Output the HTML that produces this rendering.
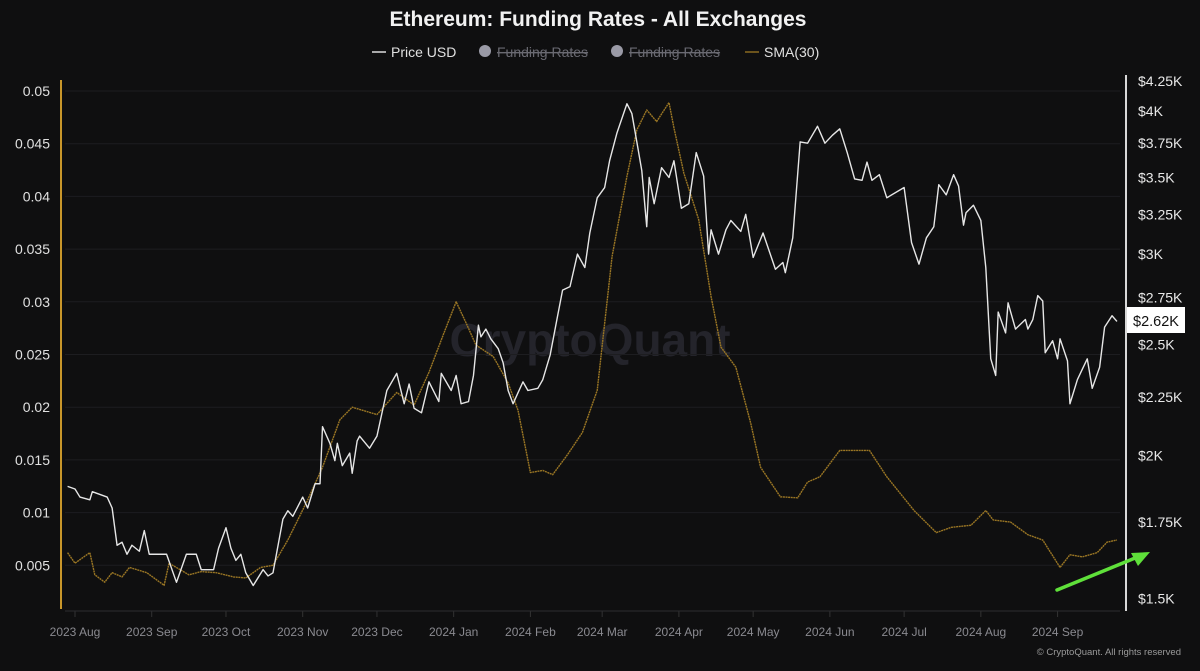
<!DOCTYPE html>
<html><head><meta charset="utf-8"><style>
body{margin:0;background:#0f0f10;width:1200px;height:666px;overflow:hidden;font-family:"Liberation Sans",sans-serif}
svg text{font-family:"Liberation Sans",sans-serif}
</style></head><body>
<svg id="chart" width="1200" height="666" viewBox="0 0 1200 666" xmlns="http://www.w3.org/2000/svg">
<rect width="1200" height="666" fill="#0f0f10"/>
<text x="598" y="26" text-anchor="middle" fill="#f2f2f2" font-size="21" font-weight="bold">Ethereum: Funding Rates - All Exchanges</text>
<g font-size="14">
 <g><line x1="372" y1="52" x2="386" y2="52" stroke="#ddd" stroke-width="1.5"/><text x="391" y="57" fill="#e0e0e0">Price USD</text></g>
 <g><circle cx="485" cy="51" r="6" fill="#9a9aa6"/><text x="497" y="57" fill="#6a6a72" text-decoration="line-through">Funding Rates</text></g>
 <g><circle cx="617" cy="51" r="6" fill="#9a9aa6"/><text x="629" y="57" fill="#6a6a72" text-decoration="line-through">Funding Rates</text></g>
 <g><line x1="745" y1="52" x2="759" y2="52" stroke="#8a6a20" stroke-width="1.5"/><text x="764" y="57" fill="#e0e0e0">SMA(30)</text></g>
</g>
<text x="590" y="356" text-anchor="middle" fill="#24242b" font-size="46" font-weight="bold">CryptoQuant</text>
<g id="grid"></g>
<g id="axes"></g>
<g id="series"></g>
<g><rect x="1127" y="307" width="58" height="26" fill="#fff"/><text x="1156" y="326" text-anchor="middle" font-size="14.5" fill="#111">$2.62K</text></g>
<g><line x1="1057" y1="590" x2="1140" y2="556" stroke="#5fe03a" stroke-width="3.5" stroke-linecap="round"/><polygon points="1150,552 1131,553 1138,566" fill="#5fe03a"/></g>
<text x="1181" y="655" text-anchor="end" fill="#9a9a9a" font-size="9.5">© CryptoQuant. All rights reserved</text>
</svg>
<script>
const priceDays=[-3,0,2,6,7,13,15,17,19,21,23,26,28,30,37,41,45,49,51,56,58,61,63,65,67,69,72,76,78,80,84,86,88,92,94,97,99,100,103,105,106,108,111,112,114,115,119,122,126,130,133,135,137,140,143,147,148,152,154,156,159,161,163,164,166,168,171,173,175,177,179,181,183,187,189,192,195,197,200,203,206,208,211,214,216,219,223,225,227,229,231,232,234,237,240,242,245,248,251,254,256,257,260,263,265,269,271,274,278,283,286,287,290,293,296,300,303,306,309,312,315,318,320,322,325,328,335,338,341,344,347,349,352,355,357,359,360,363,366,368,370,372,373,376,377,380,384,385,387,389,391,392,395,397,398,401,402,405,407,409,411,414,416,419,421];
const priceValues=[1.88,1.87,1.84,1.83,1.86,1.84,1.80,1.67,1.68,1.64,1.67,1.65,1.72,1.64,1.64,1.55,1.64,1.64,1.59,1.59,1.66,1.73,1.66,1.62,1.64,1.58,1.54,1.59,1.57,1.58,1.76,1.79,1.77,1.84,1.80,1.89,1.89,2.12,2.05,1.98,2.05,1.96,2.01,1.93,2.06,2.08,2.03,2.08,2.28,2.36,2.22,2.31,2.20,2.18,2.32,2.23,2.36,2.28,2.35,2.22,2.23,2.35,2.60,2.54,2.58,2.53,2.48,2.41,2.28,2.22,2.27,2.32,2.28,2.29,2.33,2.45,2.65,2.79,2.81,3.00,2.92,3.13,3.36,3.43,3.62,3.83,4.06,3.98,3.76,3.55,3.17,3.50,3.32,3.57,3.50,3.62,3.29,3.32,3.68,3.51,3.00,3.15,3.00,3.15,3.21,3.14,3.25,2.98,3.13,2.91,2.95,2.89,3.10,3.76,3.75,3.88,3.75,3.81,3.86,3.68,3.49,3.48,3.61,3.48,3.52,3.36,3.43,3.07,2.94,3.10,3.17,3.45,3.38,3.52,3.44,3.18,3.26,3.31,3.21,2.92,2.43,2.35,2.67,2.56,2.72,2.58,2.63,2.58,2.63,2.76,2.73,2.46,2.52,2.43,2.53,2.42,2.22,2.33,2.38,2.43,2.29,2.39,2.59,2.65,2.62];
const smaDays=[-3,0,6,8,12,15,19,22,29,36,38,46,51,57,64,69,75,80,86,94,100,107,112,122,130,137,143,149,154,158,162,169,175,179,184,189,193,199,205,211,217,223,227,231,235,240,242,246,252,257,261,267,273,277,285,292,296,301,309,321,328,339,348,354,362,368,371,378,385,391,398,402,407,413,417,421];
const smaValues=[0.0062,0.0052,0.0062,0.0041,0.0034,0.0043,0.0039,0.0048,0.0043,0.0031,0.0052,0.0041,0.0044,0.0043,0.0039,0.0038,0.0048,0.0050,0.0074,0.0112,0.0143,0.0188,0.0200,0.0193,0.0214,0.0202,0.0233,0.0270,0.0300,0.0280,0.0259,0.0248,0.0223,0.0197,0.0138,0.0140,0.0136,0.0155,0.0176,0.0216,0.0343,0.0419,0.0463,0.0482,0.0471,0.0489,0.0465,0.0422,0.0378,0.0305,0.0257,0.0238,0.0185,0.0143,0.0115,0.0114,0.0129,0.0134,0.0159,0.0159,0.0134,0.0102,0.0081,0.0086,0.0088,0.0102,0.0093,0.0091,0.0079,0.0074,0.0048,0.0060,0.0058,0.0062,0.0072,0.0074];
const leftTicks=[0.005,0.01,0.015,0.02,0.025,0.03,0.035,0.04,0.045,0.05];
const leftTickLabels=["0.005","0.01","0.015","0.02","0.025","0.03","0.035","0.04","0.045","0.05"];
const rightTicks=[1.5,1.75,2,2.25,2.5,2.75,3,3.25,3.5,3.75,4,4.25];
const rightTickLabels=["$1.5K","$1.75K","$2K","$2.25K","$2.5K","$2.75K","$3K","$3.25K","$3.5K","$3.75K","$4K","$4.25K"];
const monthDays=[0,31,61,92,122,153,184,213,244,274,305,335,366,397];
const monthLabels=["2023 Aug","2023 Sep","2023 Oct","2023 Nov","2023 Dec","2024 Jan","2024 Feb","2024 Mar","2024 Apr","2024 May","2024 Jun","2024 Jul","2024 Aug","2024 Sep"];

const NS="http://www.w3.org/2000/svg";
const xS=d=>75+d*2.475;
const yL=v=>618-v*10540;
const yR=p=>81+(Math.log(4.25)-Math.log(p))*497;
function mk(tag,attrs,parent){const e=document.createElementNS(NS,tag);for(const k in attrs)e.setAttribute(k,attrs[k]);parent.appendChild(e);return e;}
const grid=document.getElementById('grid'),axes=document.getElementById('axes'),series=document.getElementById('series');
leftTicks.forEach((v,i)=>{
  const g=mk('line',{x1:65,x2:1120,y1:yL(v),y2:yL(v),stroke:'#1d1d20','stroke-width':1},grid);
  
  
  const t=mk('text',{x:50,y:yL(v)+5,'text-anchor':'end',fill:'#e0e0e0','font-size':14},axes);
  t.textContent=leftTickLabels[i];
  
  
});
rightTicks.forEach((p,i)=>{
  const t=mk('text',{x:1138,y:yR(p)+5,fill:'#e8e8e8','font-size':14},axes);
  t.textContent=rightTickLabels[i];
  
  
});
monthDays.forEach((d,i)=>{
  const x=xS(d);
  const tk=mk('line',{x1:x,x2:x,y1:611,y2:617,stroke:'#333'},axes);
  
  
  const t=mk('text',{x:x,y:636,'text-anchor':'middle',fill:'#8a8a90','font-size':12},axes);
  t.textContent=monthLabels[i];
  
  
});
const xl=mk('line',{x1:65,x2:1120,y1:611,y2:611,stroke:'#2c2c30'},axes);


const la=mk('line',{x1:61,x2:61,y1:80,y2:609,stroke:'#c8962a','stroke-width':2},axes);


const ra=mk('line',{x1:1126,x2:1126,y1:75,y2:611,stroke:'#d8d8d8','stroke-width':2},axes);


const sp=mk('polyline',{points:smaDays.map((d,i)=>xS(d)+','+yL(smaValues[i])).join(' '),fill:'none',stroke:'#9a7624','stroke-width':1.4,'stroke-dasharray':'2 0.6','stroke-linejoin':'round'},series);


const pp=mk('polyline',{points:priceDays.map((d,i)=>xS(d)+','+yR(priceValues[i])).join(' '),fill:'none',stroke:'#e6e6e6','stroke-width':1.4,'stroke-linejoin':'round'},series);


</script>
</body></html>
